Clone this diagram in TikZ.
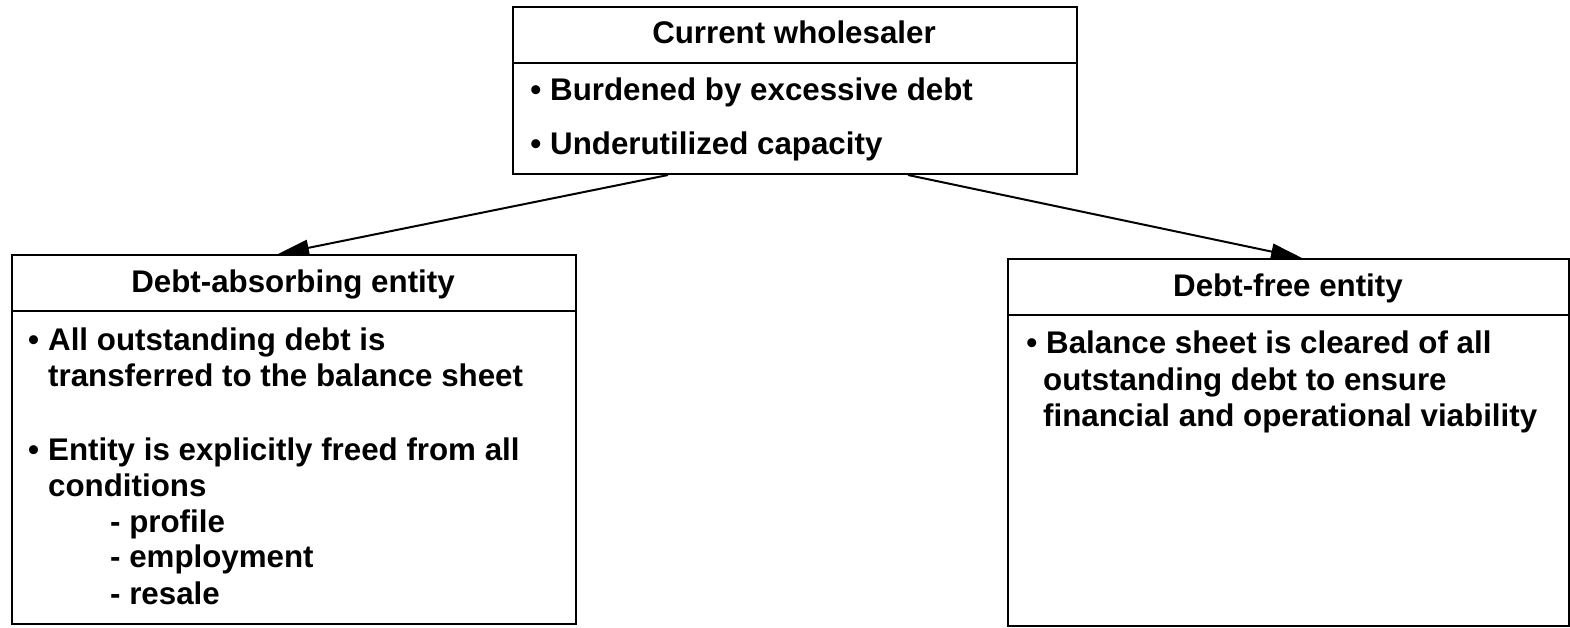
\documentclass[tikz,border=0pt]{standalone}
\usepackage{fontspec}
\setmainfont{Liberation Sans}
\usetikzlibrary{arrows.meta,calc}
\newcommand{\itembullet}{\llap{\textbullet\hspace{9pt}}}
\begin{document}
\begin{tikzpicture}[x=1pt,y=-1pt,
  box/.style={draw=black,line width=2pt,minimum width=#1,anchor=north west,inner sep=0pt,rectangle},
  rule/.style={line width=2pt},
  head/.style={font=\fontsize{31.3}{36}\selectfont\bfseries,inner sep=0pt,anchor=base},
  txt/.style={font=\fontsize{31.3}{36}\selectfont\bfseries,inner sep=0pt,anchor=base west},
  link/.style={line width=2pt,-{Triangle[length=31pt,width=16pt]}}]
\useasboundingbox (0,0) rectangle (1570,627);

% top box: the current wholesaler
\node[box=564pt,minimum height=167pt] (top) at (512,6) {};
\draw[rule] (top.west |- 0,63) -- (top.east |- 0,63);
\node[head] (topT) at (794,43) {Current wholesaler};
\node[txt] (top1) at (550,100) {\itembullet Burdened by excessive debt};
\node[txt] (top2) at (550,154) {\itembullet Underutilized capacity};

% left box: debt-absorbing entity
\node[box=564pt,minimum height=369pt] (left) at (11,254) {};
\draw[rule] (left.west |- 0,311) -- (left.east |- 0,311);
\node[head] (leftT) at (293,292) {Debt-absorbing entity};
\node[txt] (left1) at (48,350) {\itembullet All outstanding debt is};
\node[txt] (left2) at (48,386) {transferred to the balance sheet};
\node[txt] (left3) at (48,460) {\itembullet Entity is explicitly freed from all};
\node[txt] (left4) at (48,496) {conditions};
\node[txt] (left5) at (110,532) {- profile};
\node[txt] (left6) at (110,567) {- employment};
\node[txt] (left7) at (110,604) {- resale};

% right box: debt-free entity
\node[box=561pt,minimum height=367pt] (right) at (1007,258) {};
\draw[rule] (right.west |- 0,315) -- (right.east |- 0,315);
\node[head] (rightT) at (1288,296) {Debt-free entity};
\node[txt] (right1) at (1046,353) {\itembullet Balance sheet is cleared of all};
\node[txt] (right2) at (1043,390) {outstanding debt to ensure};
\node[txt] (right3) at (1043,426) {financial and operational viability};

% connectors
\draw[link] ($(top.south west)+(156,0)$) -- ($(left.north west)+(267,0)$);
\draw[link] ($(top.south west)+(396,0)$) -- ($(right.north west)+(295,0)$);
\end{tikzpicture}
\end{document}
